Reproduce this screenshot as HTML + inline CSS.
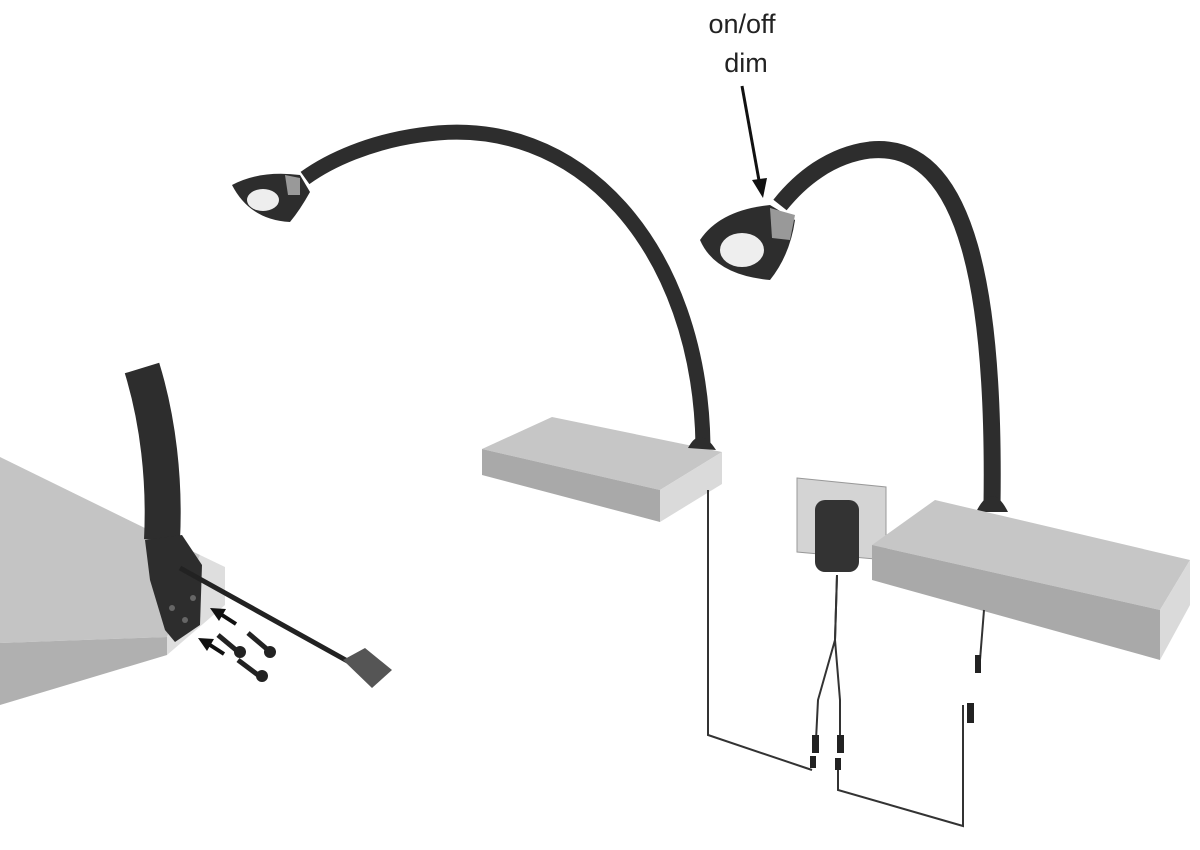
<!DOCTYPE html>
<html><head><meta charset="utf-8"><style>
html,body{margin:0;padding:0;background:#fff;}
svg{display:block}
text{font-family:"Liberation Sans",sans-serif;}
</style></head><body>
<svg width="1200" height="850" viewBox="0 0 1200 850" xmlns="http://www.w3.org/2000/svg">
<text x="742" y="33" font-size="27" text-anchor="middle" fill="#222">on/off</text>
<text x="746" y="72" font-size="27" text-anchor="middle" fill="#222">dim</text>
<line x1="742" y1="86" x2="760" y2="186" stroke="#111" stroke-width="3"/>
<path d="M752,180 L763,198 L767,178 z" fill="#111"/>

<polygon points="0,457 200,555 167,637 0,643" fill="#c4c4c4"/>
<polygon points="0,643 167,637 167,655 0,705" fill="#b0b0b0"/>
<polygon points="167,637 200,555 225,567 225,605 167,655" fill="#dedede"/>
<path d="M142,368 C158,420 165,480 162,540" stroke="#2d2d2d" stroke-width="36" fill="none"/>
<path d="M145,540 L182,535 L202,565 L200,625 L175,642 L165,630 L150,580 Z" fill="#2d2d2d"/>
<circle cx="172" cy="608" r="3" fill="#666"/><circle cx="193" cy="598" r="3" fill="#666"/><circle cx="185" cy="620" r="3" fill="#666"/>
<line x1="180" y1="568" x2="360" y2="668" stroke="#222" stroke-width="5"/>
<polygon points="343,660 365,648 392,670 372,688" fill="#555"/>
<g stroke="#222" stroke-width="5">
<line x1="218" y1="635" x2="236" y2="650"/><line x1="248" y1="633" x2="268" y2="650"/><line x1="238" y1="660" x2="258" y2="675"/>
</g>
<circle cx="240" cy="652" r="6" fill="#222"/><circle cx="270" cy="652" r="6" fill="#222"/><circle cx="262" cy="676" r="6" fill="#222"/>
<line x1="236" y1="624" x2="222" y2="615" stroke="#111" stroke-width="4"/>
<path d="M210,608 L226,609 L219,621 Z" fill="#111"/>
<line x1="224" y1="654" x2="210" y2="645" stroke="#111" stroke-width="4"/>
<path d="M198,638 L214,639 L207,651 Z" fill="#111"/>

<polygon points="482,449 552,417 722,452 660,490" fill="#c6c6c6"/>
<polygon points="482,449 660,490 660,522 482,475" fill="#a9a9a9"/>
<polygon points="660,490 722,452 722,484 660,522" fill="#dadada"/>
<path d="M703,445 C700,250 580,110 420,135 C370,142 330,160 305,178" stroke="#2d2d2d" stroke-width="15" fill="none"/>
<path d="M688,448 Q700,425 716,450 Z" fill="#2d2d2d"/>
<path d="M232,185 Q260,170 300,175 L310,192 Q300,210 290,222 Q250,220 232,185 Z" fill="#2d2d2d"/>
<ellipse cx="263" cy="200" rx="16" ry="11" fill="#eee"/>
<path d="M285,175 L300,178 L300,195 L288,195 Z" fill="#999"/>

<path d="M992,505 C995,300 970,140 870,150 C830,155 800,180 780,205" stroke="#2d2d2d" stroke-width="17" fill="none"/>
<path d="M976,512 Q992,480 1008,512 Z" fill="#2d2d2d"/>
<path d="M700,240 Q720,210 770,205 L795,220 Q790,255 770,280 Q715,275 700,240 Z" fill="#2d2d2d"/>
<ellipse cx="742" cy="250" rx="22" ry="17" fill="#eee"/>
<path d="M770,208 L795,215 L790,240 L772,238 Z" fill="#999"/>

<polygon points="797,478 886,487 886,560 797,552" fill="#d4d4d4" stroke="#999"/>
<rect x="815" y="500" width="44" height="72" rx="10" fill="#333"/>
<polygon points="872,545 935,500 1190,560 1160,610" fill="#c6c6c6"/>
<polygon points="872,545 1160,610 1160,660 872,580" fill="#a9a9a9"/>
<polygon points="1160,610 1190,560 1190,605 1160,660" fill="#dadada"/>

<g stroke="#333" stroke-width="2" fill="none">
<polyline points="708,490 708,735 812,770"/>
<path d="M837,575 L835,640 L818,700 L816,740"/>
<path d="M837,575 L835,640 L840,700 L840,740"/>
<polyline points="838,770 838,790 963,826 963,705"/>
<line x1="984" y1="610" x2="980" y2="660"/>
</g>
<g fill="#222">
<rect x="812" y="735" width="7" height="18"/><rect x="837" y="735" width="7" height="18"/>
<rect x="810" y="756" width="6" height="12"/><rect x="835" y="758" width="6" height="12"/>
<rect x="975" y="655" width="6" height="18"/><rect x="967" y="703" width="7" height="20"/>
</g>
</svg>
</body></html>
